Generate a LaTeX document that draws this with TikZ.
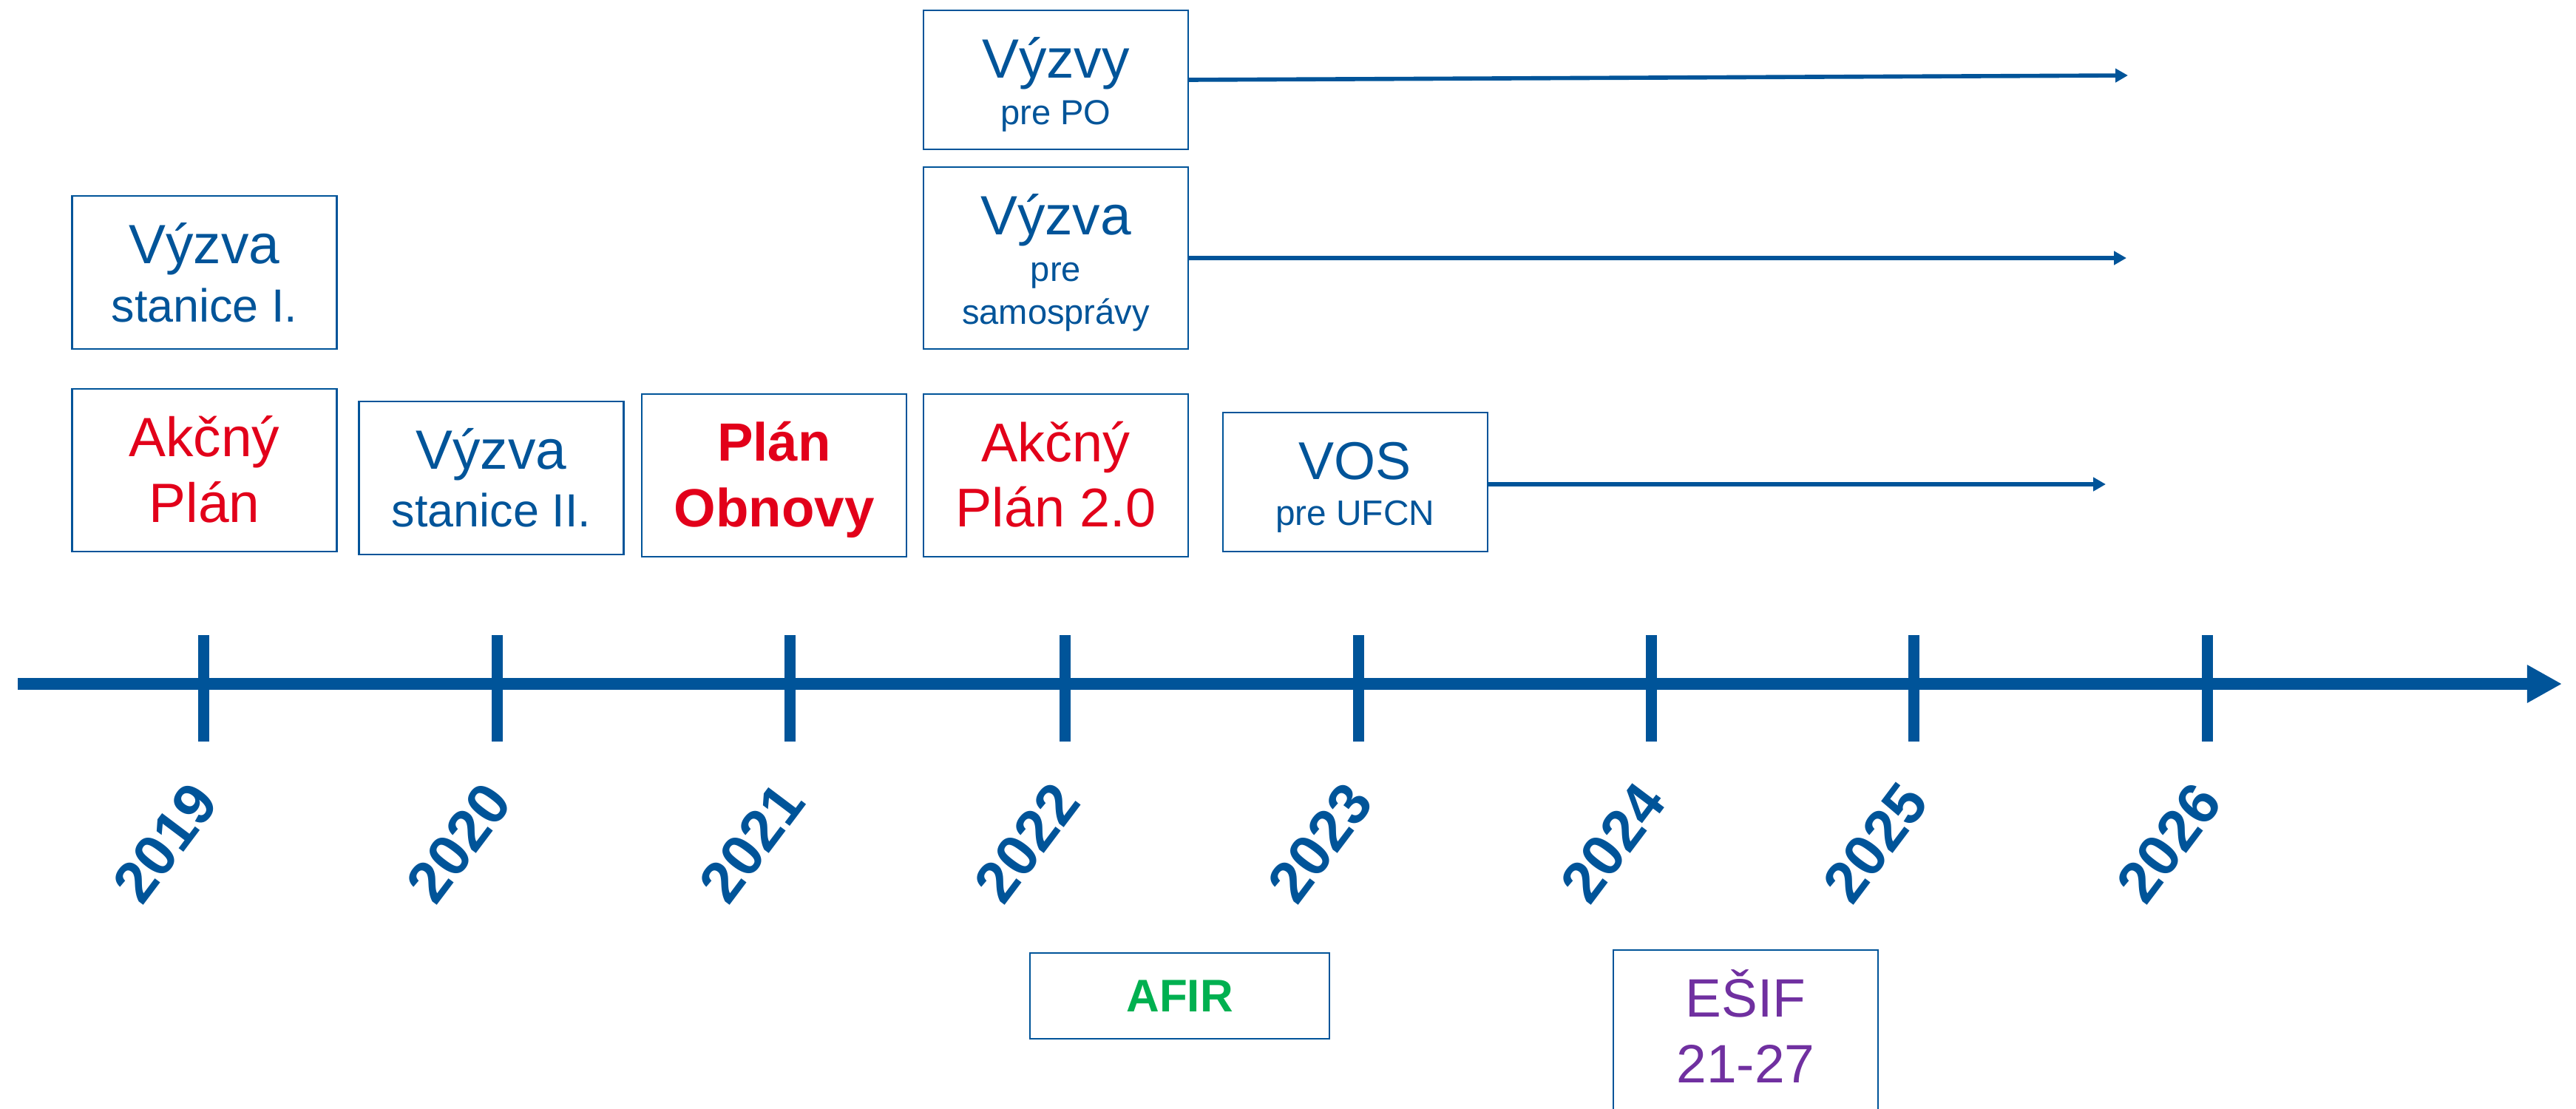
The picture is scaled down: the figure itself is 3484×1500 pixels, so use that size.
\documentclass[tikz,border=0pt]{standalone}
\usepackage{fontspec}
\setmainfont{Liberation Sans}
\usetikzlibrary{arrows.meta}
\definecolor{tlblue}{RGB}{0,84,153}
\definecolor{tlred}{RGB}{226,0,26}
\definecolor{tlgreen}{RGB}{0,176,80}
\definecolor{tlpurple}{RGB}{112,48,160}
\newcommand{\fsz}[2]{\fontsize{#1}{#2}\selectfont}
\newcommand{\lnstrut}{\rule[-0.212em]{0pt}{1.117em}}
\begin{document}
\begin{tikzpicture}[x=0.1mm,y=-0.1mm,
  box/.style={draw=tlblue, line width=0.6pt, inner sep=0pt, align=center,
              minimum width=35.8mm, text=tlblue},
  axisline/.style={draw=tlblue, line width=4.55pt, -{Triangle[length=13.4pt,width=13.7pt]}},
  tickline/.style={draw=tlblue, line width=4.27pt},
  smallarrow/.style={draw=tlblue, line width=1.6pt, -{Triangle[length=4.8pt,width=5.1pt]}},
  yearlabel/.style={text=tlblue, font=\bfseries\fsz{22.5}{27}, inner sep=0pt, rotate=53}]
\clip (0,0) rectangle (3484,1500);
\fill[white] (0,0) rectangle (3484,1500);

% axis
\coordinate (axs) at (24,925);
\coordinate (axe) at (3465,925);
\draw[axisline] (axs) -- (axe);
\foreach \yr/\xx in {2019/275.5, 2020/672.8, 2021/1068.9, 2022/1440.9, 2023/1837.7, 2024/2233.6, 2025/2588.5, 2026/2985.6}{
  \coordinate (ta\yr) at (\xx,859);
  \coordinate (tb\yr) at (\xx,1003);
  \draw[tickline] (ta\yr) -- (tb\yr);
  \node[yearlabel] (y\yr) at (\xx-52,1140) {\yr};
}

% upper boxes
\node[box, minimum height=20.7mm, font=\fsz{21.3}{22.5}] (vs1) at (276.5,368.5)
  {\lnstrut Výzva\\\fsz{17.9}{22.5}\lnstrut stanice I.};
\node[box, minimum height=22mm, font=\fsz{21.3}{25.5}, text=tlred] (ap1) at (276.5,636)
  {\lnstrut Akčný\\\lnstrut Plán};
\node[box, minimum height=20.7mm, font=\fsz{21.3}{22.2}] (vs2) at (664.5,646.5)
  {\lnstrut Výzva\\\fsz{17.9}{22.2}\lnstrut stanice II.};
\node[box, minimum height=22mm, font=\bfseries\fsz{20.7}{25.3}, text=tlred] (po) at (1047,643)
  {\lnstrut Plán\\\lnstrut Obnovy};
\node[box, minimum height=22mm, font=\fsz{21}{25}, text=tlred] (ap2) at (1428,643)
  {\lnstrut Akčný\\\lnstrut Plán 2.0};
\node[box, minimum height=18.8mm, font=\fsz{21.3}{17.8}] (vpo) at (1428,108)
  {\lnstrut Výzvy\\\fsz{13.4}{17.8}\lnstrut pre PO};
\node[box, minimum height=24.6mm, font=\fsz{21.3}{18}] (vsam) at (1428,349)
  {\lnstrut Výzva\\\fsz{13.4}{18}\lnstrut pre\\[-1.6pt]\fsz{13.4}{18}\lnstrut samosprávy};
\node[box, minimum height=18.8mm, font=\fsz{20.5}{17.4}] (vos) at (1832.6,652)
  {\lnstrut VOS\\\fsz{13.6}{17.4}\lnstrut pre UFCN};

% lower boxes
\node[box, minimum width=40.5mm, minimum height=11.6mm, font=\bfseries\fsz{17.6}{21}, text=tlgreen] (afir) at (1595.5,1347)
  {\lnstrut AFIR};
\node[box, minimum height=22mm, font=\fsz{20.8}{25.3}, text=tlpurple] (esif) at (2361,1395)
  {\lnstrut EŠIF\\\lnstrut 21-27};

% arrows
\coordinate (vpoend) at (2878,102);
\coordinate (vsamend) at (2876,349);
\coordinate (vosend) at (2848,655);
\draw[smallarrow] (vpo.east) -- (vpoend);
\draw[smallarrow] (vsam.east) -- (vsamend);
\draw[smallarrow] (vos.east |- vosend) -- (vosend);
\end{tikzpicture}
\end{document}
